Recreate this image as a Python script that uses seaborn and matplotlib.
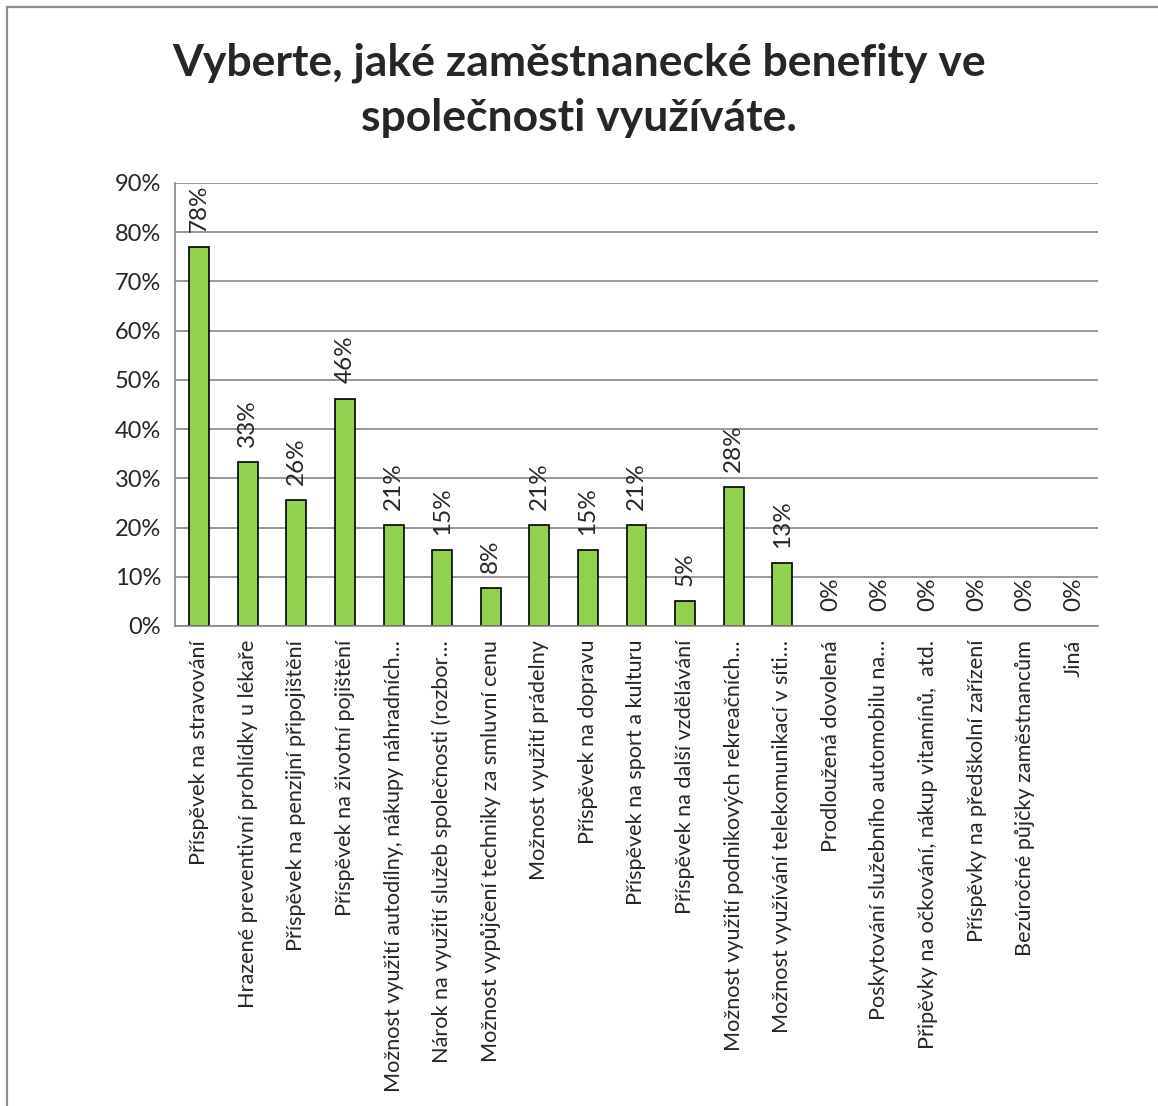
import matplotlib
matplotlib.use('Agg')
import matplotlib.pyplot as plt
from matplotlib.ticker import PercentFormatter, FixedLocator
import seaborn as sns
import pandas as pd

# ── data ──────────────────────────────────────────────────────────────
TITLE = 'Vyberte, jaké zaměstnanecké benefity ve\nspolečnosti využíváte.'

benefits = [
    'Příspěvek na stravování',
    'Hrazené preventivní prohlídky u lékaře',
    'Příspěvek na penzijní připojištění',
    'Příspěvek na životní pojištění',
    'Možnost využití autodílny, nákupy náhradních…',
    'Nárok na využití služeb společnosti (rozbor…',
    'Možnost vypůjčení techniky za smluvní cenu',
    'Možnost využití prádelny',
    'Příspěvek na dopravu',
    'Příspěvek na sport a kulturu',
    'Příspěvek na další vzdělávání',
    'Možnost využití podnikových rekreačních…',
    'Možnost využívání telekomunikací v síti…',
    'Prodloužená dovolená',
    'Poskytování služebního automobilu na…',
    'Připěvky na očkování, nákup vitamínů,  atd.',
    'Příspěvky na předškolní zařízení',
    'Bezúročné půjčky zaměstnancům',
    'Jiná',
]
shares = [0.769, 0.333, 0.256, 0.462, 0.205, 0.154, 0.077, 0.205, 0.154,
          0.205, 0.051, 0.282, 0.128, 0, 0, 0, 0, 0, 0]
share_labels = ['78%', '33%', '26%', '46%', '21%', '15%', '8%', '21%', '15%',
                '21%', '5%', '28%', '13%', '0%', '0%', '0%', '0%', '0%', '0%']

BAR_COLOR  = '#92D050'
GRID_COLOR = '#868686'

sns.set_style('white')
plt.rcParams['font.family'] = ['Lato', 'DejaVu Sans']

df = pd.DataFrame({'benefit': benefits, 'share': shares})

fig = plt.figure(figsize=(11.58, 11.06), dpi=100)
ax = fig.add_axes([175 / 1158, 1 - 626 / 1106, (1098 - 175) / 1158, (626 - 183) / 1106])

sns.barplot(data=df, x='benefit', y='share', color=BAR_COLOR, saturation=1,
            edgecolor='black', linewidth=1.2, width=0.41, ax=ax)

# data labels
for p, lab in zip(ax.patches, share_labels):
    if p.get_height() == 0:
        p.set_linewidth(0)
    ax.annotate(lab, (p.get_x() + p.get_width() / 2, p.get_height()),
                xytext=(0, 11), textcoords='offset points',
                rotation=90, ha='center', va='bottom', fontsize=17.5)

# y axis
ax.set_ylim(0, 0.9)
ax.set_yticks([i / 10 for i in range(10)])
ax.yaxis.set_major_formatter(PercentFormatter(1.0, decimals=0))
ax.yaxis.grid(True, color=GRID_COLOR, linewidth=1.2)
ax.set_axisbelow(True)

# x axis
ax.set_xlim(-0.5, len(benefits) - 0.5)
ax.xaxis.set_minor_locator(FixedLocator([i - 0.5 for i in range(len(benefits) + 1)]))
ax.tick_params(axis='x', which='major', length=0, pad=10, labelsize=15.6, labelrotation=90)
ax.tick_params(axis='x', which='minor', length=6, width=1.2, color=GRID_COLOR, direction='out')
ax.tick_params(axis='y', which='major', length=6, width=1.2, color=GRID_COLOR,
               direction='out', labelsize=17, pad=4)
for lbl in ax.get_xticklabels():
    lbl.set_verticalalignment('top')
    lbl.set_horizontalalignment('center')

ax.set_xlabel('')
ax.set_ylabel('')
for side in ['top', 'right']:
    ax.spines[side].set_visible(False)
for side in ['left', 'bottom']:
    ax.spines[side].set_color(GRID_COLOR)
    ax.spines[side].set_linewidth(1.2)

fig.text(0.5, 1 - 90 / 1106, TITLE, ha='center', va='center',
         fontsize=32, fontweight='bold', linespacing=1.45)

# chart area border (only top and left visible in the crop)
fig.add_artist(plt.Line2D([7 / 1158, 1], [1 - 7 / 1106, 1 - 7 / 1106],
                          transform=fig.transFigure, color='#8c8c8c', linewidth=1.6))
fig.add_artist(plt.Line2D([7 / 1158, 7 / 1158], [0, 1 - 7 / 1106],
                          transform=fig.transFigure, color='#8c8c8c', linewidth=1.6))

fig.savefig('out.png', dpi=100, facecolor='white')
